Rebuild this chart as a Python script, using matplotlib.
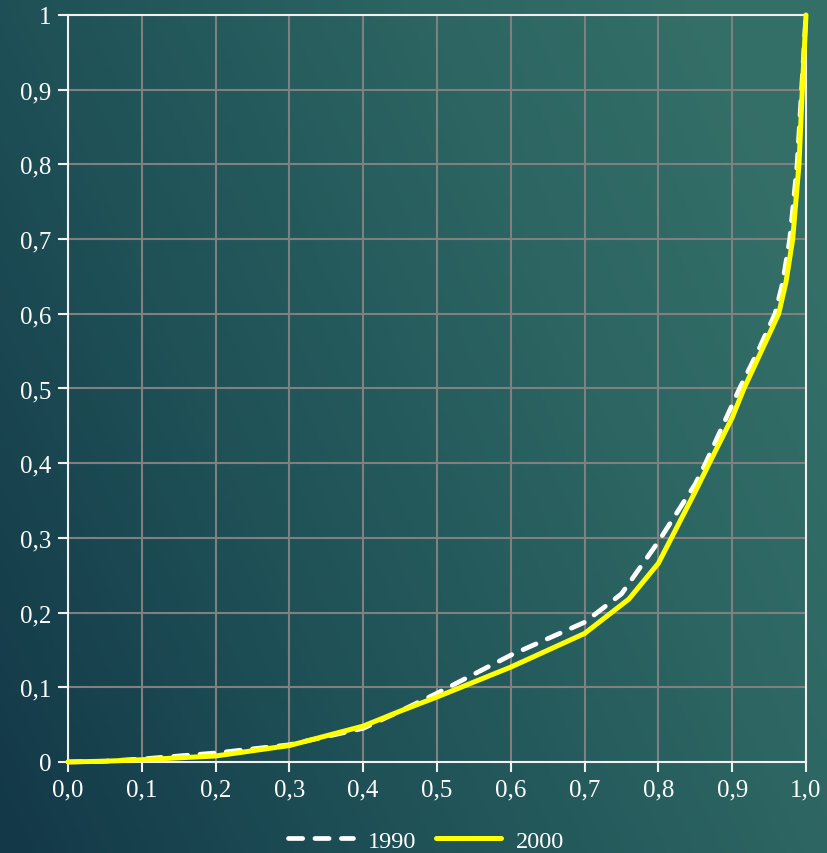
import numpy as np
import matplotlib
matplotlib.use("Agg")
import matplotlib.pyplot as plt
from matplotlib.colors import LinearSegmentedColormap

# Data (cumulative share of population vs. cumulative share of income)
x_1990 = [0.0, 0.05, 0.1, 0.2, 0.3, 0.4, 0.45, 0.5, 0.6, 0.7, 0.75, 0.8, 0.85, 0.864, 0.9, 0.91, 0.935, 0.958, 0.968, 0.978, 0.988, 0.994, 1.0]
y_1990 = [0.0, 0.001, 0.004, 0.012, 0.023, 0.045, 0.068, 0.092, 0.143, 0.187, 0.225, 0.295, 0.372, 0.4, 0.478, 0.5, 0.55, 0.6, 0.64, 0.7, 0.8, 0.9, 1.0]

x_2000 = [0.0, 0.05, 0.1, 0.2, 0.3, 0.4, 0.45, 0.5, 0.6, 0.7, 0.76, 0.8, 0.85, 0.869, 0.9, 0.916, 0.94, 0.963, 0.973, 0.982, 0.9905, 0.995, 1.0]
y_2000 = [0.0, 0.001, 0.003, 0.008, 0.022, 0.048, 0.068, 0.087, 0.127, 0.172, 0.218, 0.266, 0.362, 0.4, 0.461, 0.5, 0.551, 0.6, 0.643, 0.7, 0.8, 0.9, 1.0]

x_ticks = [0.0, 0.1, 0.2, 0.3, 0.4, 0.5, 0.6, 0.7, 0.8, 0.9, 1.0]
x_labels = ["0,0", "0,1", "0,2", "0,3", "0,4", "0,5", "0,6", "0,7", "0,8", "0,9", "1,0"]
y_ticks = [0.0, 0.1, 0.2, 0.3, 0.4, 0.5, 0.6, 0.7, 0.8, 0.9, 1.0]
y_labels = ["0", "0,1", "0,2", "0,3", "0,4", "0,5", "0,6", "0,7", "0,8", "0,9", "1"]

plt.rcParams['font.family'] = ['Liberation Serif', 'DejaVu Serif']

fig = plt.figure(figsize=(8.27, 8.54), dpi=100)

# gradient background
bg = fig.add_axes([0, 0, 1, 1], zorder=-10)
bg.axis('off')
nx, ny = 200, 200
gx, gy = np.meshgrid(np.linspace(0, 1, nx), np.linspace(0, 1, ny))
t = np.clip(0.75 * gx + 0.35 * gy, 0, 1)
cmap = LinearSegmentedColormap.from_list('bg', ['#133848', '#1f5157', '#2c6562', '#38736a'])
bg.imshow(t, cmap=cmap, origin='lower', extent=[0, 1, 0, 1], aspect='auto', vmin=0, vmax=1.1)
bg.set_xlim(0, 1)
bg.set_ylim(0, 1)

ax = fig.add_axes([0.0822, 0.1066, 0.8924, 0.8747])
ax.patch.set_alpha(0)
ax.set_xlim(0, 1)
ax.set_ylim(0, 1)
ax.set_xticks(x_ticks)
ax.set_xticklabels(x_labels)
ax.set_yticks(y_ticks)
ax.set_yticklabels(y_labels)
ax.grid(True, color='#808080', linewidth=1.5)
ax.set_axisbelow(True)
for s in ax.spines.values():
    s.set_color('#f0f0f0')
    s.set_linewidth(1.5)
ax.tick_params(colors='#f0f0f0', labelcolor='white', labelsize=18, length=7, width=1.5, direction='out', pad=5)

ax.plot(x_1990, y_1990, color='white', linewidth=3.4, linestyle=(0, (3.0, 2.6)),
        dash_capstyle='round', label='1990', zorder=3, clip_on=False)
ax.plot(x_2000, y_2000, color='#ffff00', linewidth=3.6, solid_capstyle='round',
        label='2000', zorder=4, clip_on=False)

leg = fig.legend(loc='lower center', bbox_to_anchor=(0.515, -0.024), ncol=2, frameon=False,
                 fontsize=17.5, handlelength=2.7, handletextpad=0.6, columnspacing=0.8)
for txt in leg.get_texts():
    txt.set_color('white')

fig.savefig('out.png', dpi=100)
